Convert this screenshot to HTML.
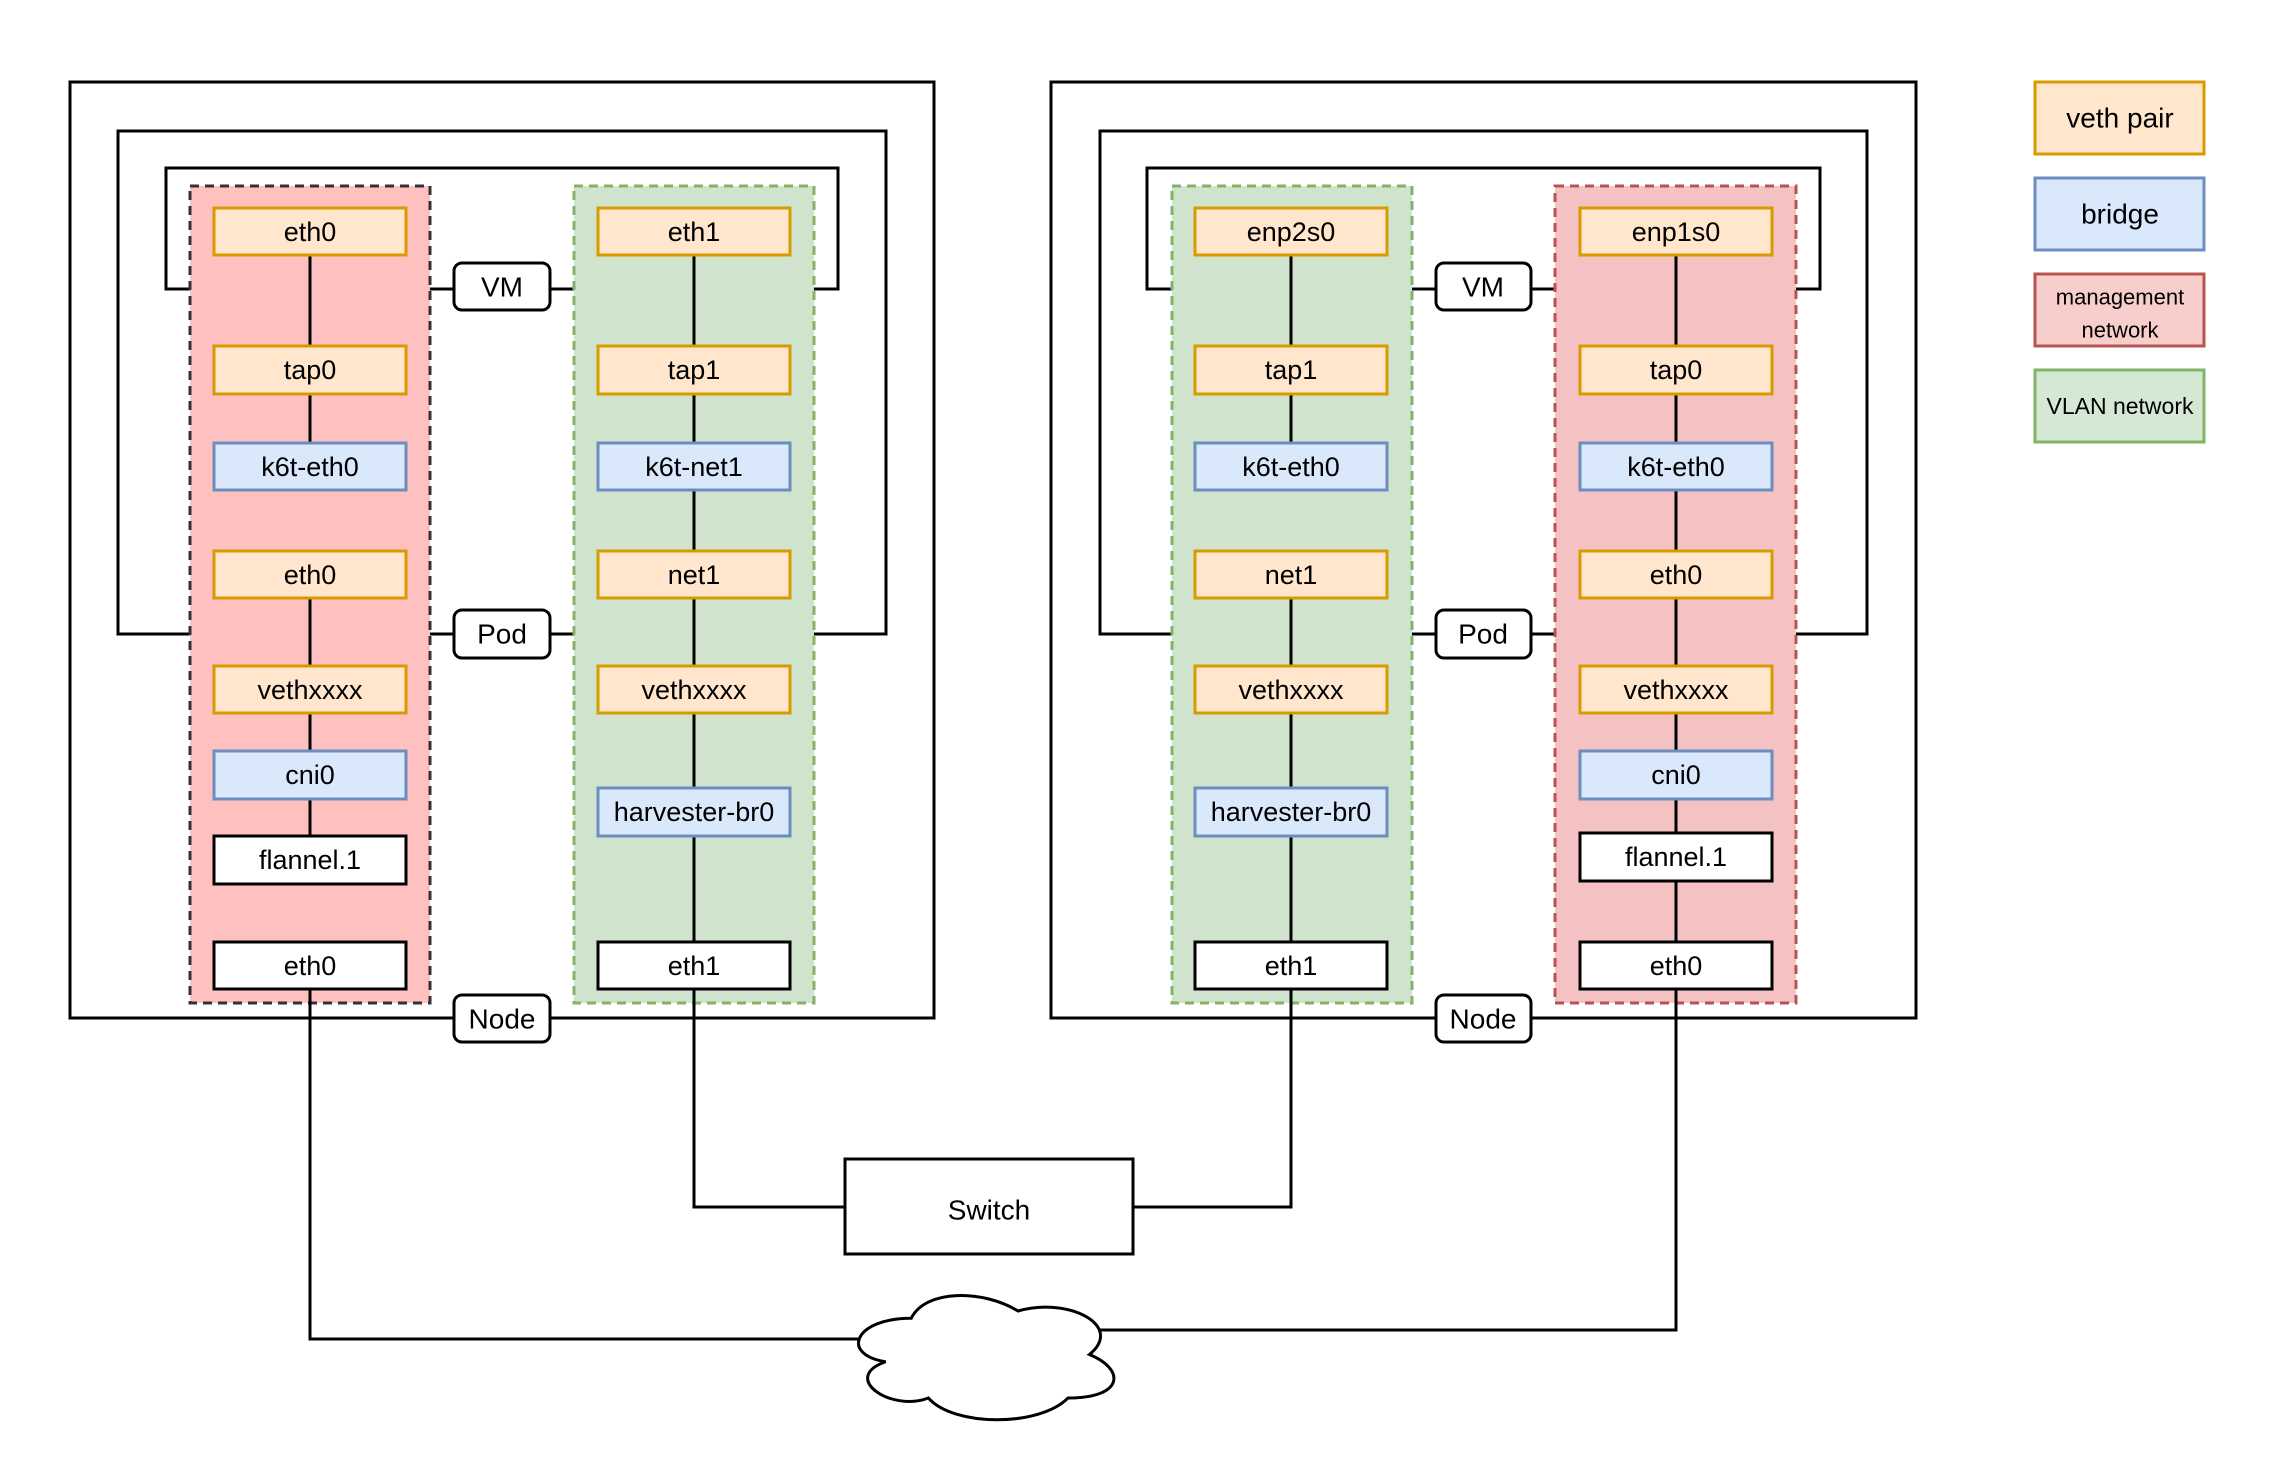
<!DOCTYPE html>
<html><head><meta charset="utf-8"><style>
html,body{margin:0;padding:0;background:#fff}
svg{display:block}
text{font-family:"Liberation Sans",Arial,sans-serif;fill:#000;text-anchor:middle;dominant-baseline:central}
</style></head><body>
<svg width="2290" height="1466" viewBox="0 0 2290 1466" xmlns="http://www.w3.org/2000/svg">
<rect width="2290" height="1466" fill="#fff"/>
<g fill="none" stroke="#000" stroke-width="3">
<rect x="70" y="82" width="864" height="936"/>
<rect x="118" y="131" width="768" height="503"/>
<rect x="166" y="168" width="672" height="121"/>
<rect x="1051" y="82" width="865" height="936"/>
<rect x="1100" y="131" width="767" height="503"/>
<rect x="1147" y="168" width="673" height="121"/>
</g>
<rect x="190" y="186" width="240" height="817" fill="#ffc0c0" stroke="#333" stroke-width="3" stroke-dasharray="9,6"/>
<rect x="574" y="186" width="240" height="817" fill="#d0e4cd" stroke="#82b366" stroke-width="3" stroke-dasharray="9,6"/>
<rect x="1172" y="186" width="240" height="817" fill="#d0e4cd" stroke="#82b366" stroke-width="3" stroke-dasharray="9,6"/>
<rect x="1555" y="186" width="241" height="817" fill="#f4c2c2" stroke="#b85450" stroke-width="3" stroke-dasharray="9,6"/>
<g stroke="#000" stroke-width="3" fill="none">
<path d="M310 255V346M310 394V443M310 598V666M310 713V751M310 799V836M310 989V1339H875"/>
<path d="M694 255V346M694 394V443M694 490V551M694 598V666M694 713V788M694 836V942M694 989V1207H845"/>
<path d="M1291 255V346M1291 394V443M1291 598V666M1291 713V788M1291 836V942M1291 989V1207H1133"/>
<path d="M1676 255V346M1676 394V443M1676 490V551M1676 598V666M1676 713V751M1676 799V833M1676 881V942M1676 989V1330H1100"/>
</g>
<rect x="845" y="1159" width="288" height="95" fill="#fff" stroke="#000" stroke-width="3"/>
<text x="989" y="1210" font-size="28">Switch</text>
<path d="M911.25 1318.25C854.25 1318.25 840 1354.5 885.6 1361.75C840 1377.7 891.3 1412.5 928.35 1398C954 1427 1039.5 1427 1068 1398C1125 1398 1125 1369 1089.4 1354.5C1125 1325.5 1068 1296.5 1018.1 1311C982.5 1289.25 925.5 1289.25 911.25 1318.25Z" fill="#fff" stroke="#000" stroke-width="3"/>
<g stroke-width="3" font-size="27">
<g>
<rect x="214" y="208" width="192" height="47" fill="#ffe6cc" stroke="#d79b00"/><text x="310" y="232">eth0</text>
<rect x="214" y="346" width="192" height="48" fill="#ffe6cc" stroke="#d79b00"/><text x="310" y="370">tap0</text>
<rect x="214" y="443" width="192" height="47" fill="#dae8fc" stroke="#6c8ebf"/><text x="310" y="467">k6t-eth0</text>
<rect x="214" y="551" width="192" height="47" fill="#ffe6cc" stroke="#d79b00"/><text x="310" y="575">eth0</text>
<rect x="214" y="666" width="192" height="47" fill="#ffe6cc" stroke="#d79b00"/><text x="310" y="690">vethxxxx</text>
<rect x="214" y="751" width="192" height="48" fill="#dae8fc" stroke="#6c8ebf"/><text x="310" y="775">cni0</text>
<rect x="214" y="836" width="192" height="48" fill="#fff" stroke="#000"/><text x="310" y="860">flannel.1</text>
<rect x="214" y="942" width="192" height="47" fill="#fff" stroke="#000"/><text x="310" y="966">eth0</text>
</g>
<g>
<rect x="598" y="208" width="192" height="47" fill="#ffe6cc" stroke="#d79b00"/><text x="694" y="232">eth1</text>
<rect x="598" y="346" width="192" height="48" fill="#ffe6cc" stroke="#d79b00"/><text x="694" y="370">tap1</text>
<rect x="598" y="443" width="192" height="47" fill="#dae8fc" stroke="#6c8ebf"/><text x="694" y="467">k6t-net1</text>
<rect x="598" y="551" width="192" height="47" fill="#ffe6cc" stroke="#d79b00"/><text x="694" y="575">net1</text>
<rect x="598" y="666" width="192" height="47" fill="#ffe6cc" stroke="#d79b00"/><text x="694" y="690">vethxxxx</text>
<rect x="598" y="788" width="192" height="48" fill="#dae8fc" stroke="#6c8ebf"/><text x="694" y="812">harvester-br0</text>
<rect x="598" y="942" width="192" height="47" fill="#fff" stroke="#000"/><text x="694" y="966">eth1</text>
</g>
<g>
<rect x="1195" y="208" width="192" height="47" fill="#ffe6cc" stroke="#d79b00"/><text x="1291" y="232">enp2s0</text>
<rect x="1195" y="346" width="192" height="48" fill="#ffe6cc" stroke="#d79b00"/><text x="1291" y="370">tap1</text>
<rect x="1195" y="443" width="192" height="47" fill="#dae8fc" stroke="#6c8ebf"/><text x="1291" y="467">k6t-eth0</text>
<rect x="1195" y="551" width="192" height="47" fill="#ffe6cc" stroke="#d79b00"/><text x="1291" y="575">net1</text>
<rect x="1195" y="666" width="192" height="47" fill="#ffe6cc" stroke="#d79b00"/><text x="1291" y="690">vethxxxx</text>
<rect x="1195" y="788" width="192" height="48" fill="#dae8fc" stroke="#6c8ebf"/><text x="1291" y="812">harvester-br0</text>
<rect x="1195" y="942" width="192" height="47" fill="#fff" stroke="#000"/><text x="1291" y="966">eth1</text>
</g>
<g>
<rect x="1580" y="208" width="192" height="47" fill="#ffe6cc" stroke="#d79b00"/><text x="1676" y="232">enp1s0</text>
<rect x="1580" y="346" width="192" height="48" fill="#ffe6cc" stroke="#d79b00"/><text x="1676" y="370">tap0</text>
<rect x="1580" y="443" width="192" height="47" fill="#dae8fc" stroke="#6c8ebf"/><text x="1676" y="467">k6t-eth0</text>
<rect x="1580" y="551" width="192" height="47" fill="#ffe6cc" stroke="#d79b00"/><text x="1676" y="575">eth0</text>
<rect x="1580" y="666" width="192" height="47" fill="#ffe6cc" stroke="#d79b00"/><text x="1676" y="690">vethxxxx</text>
<rect x="1580" y="751" width="192" height="48" fill="#dae8fc" stroke="#6c8ebf"/><text x="1676" y="775">cni0</text>
<rect x="1580" y="833" width="192" height="48" fill="#fff" stroke="#000"/><text x="1676" y="857">flannel.1</text>
<rect x="1580" y="942" width="192" height="47" fill="#fff" stroke="#000"/><text x="1676" y="966">eth0</text>
</g>
</g>
<g stroke="#000" stroke-width="3" fill="#fff">
<rect x="454" y="263" width="96" height="47" rx="8"/>
<rect x="454" y="610" width="96" height="48" rx="8"/>
<rect x="454" y="995" width="96" height="47" rx="8"/>
<rect x="1436" y="263" width="95" height="47" rx="8"/>
<rect x="1436" y="610" width="95" height="48" rx="8"/>
<rect x="1436" y="995" width="95" height="47" rx="8"/>
</g>
<g font-size="28">
<text x="502" y="287">VM</text><text x="502" y="634">Pod</text><text x="502" y="1019">Node</text>
<text x="1483" y="287">VM</text><text x="1483" y="634">Pod</text><text x="1483" y="1019">Node</text>
</g>
<g stroke-width="3">
<rect x="2035" y="82" width="169" height="72" fill="#ffe6cc" stroke="#d79b00"/>
<rect x="2035" y="178" width="169" height="72" fill="#dae8fc" stroke="#6c8ebf"/>
<rect x="2035" y="274" width="169" height="72" fill="#f8cecc" stroke="#b85450"/>
<rect x="2035" y="370" width="169" height="72" fill="#d5e8d4" stroke="#82b366"/>
</g>
<text x="2120" y="118" font-size="28">veth pair</text>
<text x="2120" y="214" font-size="28">bridge</text>
<text x="2120" y="297" font-size="22">management</text>
<text x="2120" y="330" font-size="22">network</text>
<text x="2120" y="406" font-size="23">VLAN network</text>
</svg>
</body></html>
